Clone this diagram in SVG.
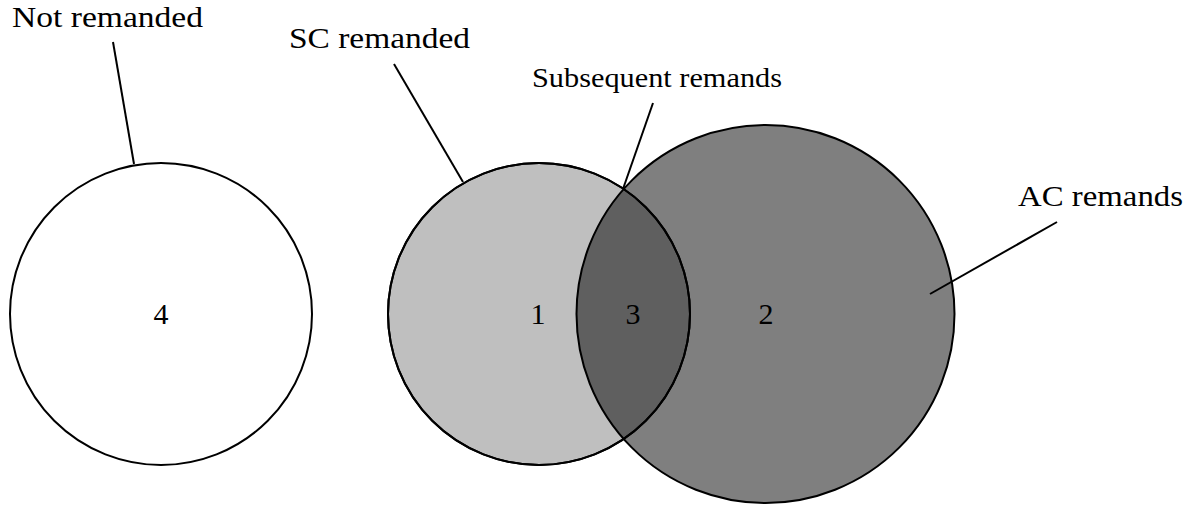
<svg xmlns="http://www.w3.org/2000/svg" xmlns:xlink="http://www.w3.org/1999/xlink" width="1190" height="506" viewBox="0 0 1190 506">
  <style>
    .lbl { font-family: "Liberation Serif", "Times New Roman", serif; font-size: 30px; fill: #000; }
    .lbl-sm { font-size: 28px; }
    .num { font-family: "Liberation Serif", "Times New Roman", serif; font-size: 30px; fill: #000; text-anchor: middle; }
    .ring { stroke: #000; stroke-width: 2; }
    .lead { stroke: #000; stroke-width: 2; fill: none; stroke-linecap: butt; }
  </style>
  <defs>
    <!-- outline of the SC set, redrawn over the AC fill -->
    <circle id="sc-outline" cx="539" cy="314" r="151" fill="none" stroke="#000" stroke-width="2"/>
  </defs>
  <rect width="1190" height="506" fill="#fff"/>

  <!-- set: not remanded -->
  <g id="node-not-remanded">
    <circle class="ring" cx="161" cy="314" r="151" fill="#fff"/>
    <text class="num" x="161" y="324">4</text>
  </g>

  <!-- set: remanded by SC -->
  <g id="node-sc">
    <circle class="ring" cx="539" cy="314" r="151" fill="#000" fill-opacity="0.25"/>
    <text class="num" x="538" y="324">1</text>
  </g>

  <!-- set: remanded by AC -->
  <g id="node-ac">
    <circle class="ring" cx="765.5" cy="314" r="189" fill="#000" fill-opacity="0.5"/>
    <text class="num" x="766" y="324">2</text>
  </g>

  <!-- intersection: both -->
  <g id="node-both">
    <use xlink:href="#sc-outline"/>
    <text class="num" x="633" y="324">3</text>
  </g>

  <!-- leader lines -->
  <g id="connectors">
    <line class="lead" x1="113" y1="42" x2="134" y2="164"/>
    <line class="lead" x1="394" y1="64" x2="463" y2="182"/>
    <line class="lead" x1="653" y1="103" x2="623" y2="189"/>
    <line class="lead" x1="1057" y1="222" x2="930" y2="294"/>
  </g>

  <!-- callout labels -->
  <g id="labels">
    <text class="lbl" x="12" y="27" textLength="191" lengthAdjust="spacingAndGlyphs">Not remanded</text>
    <text class="lbl" x="289" y="48" textLength="181" lengthAdjust="spacingAndGlyphs">SC remanded</text>
    <text class="lbl lbl-sm" x="532" y="87" textLength="250" lengthAdjust="spacingAndGlyphs">Subsequent remands</text>
    <text class="lbl" x="1018" y="206" textLength="165" lengthAdjust="spacingAndGlyphs">AC remands</text>
  </g>
</svg>
